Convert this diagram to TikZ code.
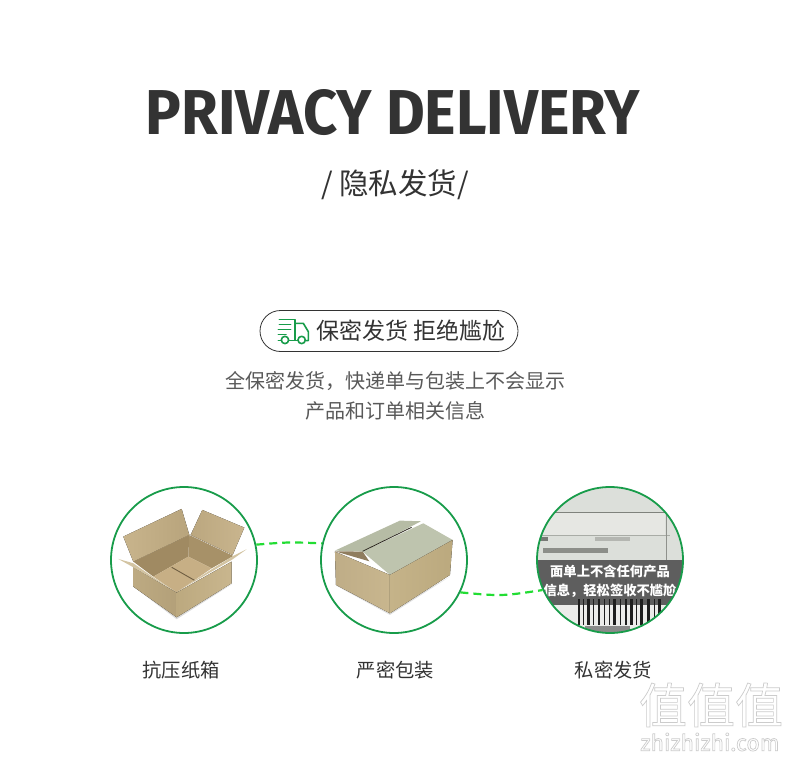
\documentclass[tikz,border=0pt]{standalone}
\usepackage{fontspec}
\setmainfont{Fira Sans}
\newfontfamily\cjk{Noto Sans CJK SC}
\newfontfamily\titlefont{Fira Sans}
\usetikzlibrary{calc}
\definecolor{ringgreen}{HTML}{189C4A}
\definecolor{dashgreen}{HTML}{22DD33}
\definecolor{inkdark}{HTML}{333333}
\definecolor{inkmid}{HTML}{595959}
\newcommand{\hexdef}[1]{\definecolor{#1}{HTML}{#1}}
\hexdef{C8B48C}\hexdef{B8A47C}\hexdef{BBA77F}\hexdef{C9B58E}\hexdef{A08A62}\hexdef{A79168}
\hexdef{C7AF85}\hexdef{BDAA82}\hexdef{B3A079}\hexdef{BCA97F}\hexdef{C9B68E}\hexdef{D3C4A2}
\hexdef{B6BCA5}\hexdef{BEC4AE}\hexdef{BFAD87}\hexdef{C8B68E}\hexdef{C5B389}\hexdef{BBA97E}
\hexdef{8F7D5E}\hexdef{6F5E42}\hexdef{2E2A20}\hexdef{DCDFDA}\hexdef{7F827C}\hexdef{A9ACA6}
\hexdef{8F918C}\hexdef{B4B6B1}\hexdef{777975}\hexdef{8C8E89}\hexdef{5E5E5E}\hexdef{ECECEA}
\hexdef{1E1E1E}\hexdef{8A8A8A}\hexdef{E6E7E3}
\tikzset{
  ring/.style={circle,draw=ringgreen,line width=1.8pt,minimum size=146pt,inner sep=0pt},
  link/.style={draw=dashgreen,line width=2.2pt,dash pattern=on 8pt off 5pt},
  caption text/.style={font=\cjk\fontsize{19.3}{22}\selectfont,text=inkdark,inner sep=0pt},
  para/.style={font=\cjk\fontsize{20}{24}\selectfont,text=inkmid,inner sep=0pt},
  truckline/.style={draw=ringgreen,line width=1.6pt,line cap=round,line join=round},
  lab/.style={font=\cjk\bfseries\fontsize{13.3}{15}\selectfont,text=white,inner sep=0pt}
}
\begin{document}
\begin{tikzpicture}[x=1pt,y=-1pt]
\useasboundingbox (0,0) rectangle (790,760);
\fill[white] (0,0) rectangle (790,760);

% title
\node[inner sep=0pt,text=inkdark] (title) at (393,113) {\resizebox{494pt}{45pt}{\titlefont\bfseries PRIVACY DELIVERY}};
\node[inner sep=0pt,text=inkdark,font=\cjk\fontsize{29.5}{34}\selectfont] (sub) at (395,184.5) {/ 隐私发货/};

% pill
\node[draw=inkdark,line width=0.8pt,rounded corners=20.5pt,minimum width=258pt,minimum height=41pt,inner sep=0pt] (pill) at (389,331) {};
\node[inner sep=0pt,text=inkdark,font=\cjk\fontsize{23}{26}\selectfont] (pilltext) at (411,331) {保密发货\hspace{6pt}拒绝尴尬};

% truck icon
\begin{scope}[x=0.3333pt,y=-0.3333pt,shift={(750,900)}]
  \draw[truckline] (88,58) -- (135,58) -- (135,122) -- (117,122);
  \draw[truckline] (88,73) -- (122,73);
  \draw[truckline] (85,88) -- (122,88);
  \draw[truckline] (85,104) -- (108,104);
  \draw[truckline] (85,122) -- (94,122);
  \draw[truckline] (135,70) -- (160,70) -- (175,95) -- (175,122) -- (167,122);
  \draw[truckline] (135,122) -- (144,122);
  \draw[truckline] (105,120) circle (11);
  \draw[truckline] (155,120) circle (11);
\end{scope}

% paragraph
\node[para] (p1) at (395.5,381) {全保密发货，快递单与包装上不会显示};
\node[para] (p2) at (395.5,411) {产品和订单相关信息};

% open box
\begin{scope}[x=0.3333pt,y=-0.3333pt,shift={(300,1440)}]
  \fill[black!14] (100,320) -- (230,418) -- (397,312) -- (230,405) -- cycle;
  \fill[left color=C8B48C,right color=B8A47C] (70,170) -- (245,87) -- (268,165) -- (100,245) -- cycle;
  \fill[left color=BBA77F,right color=C9B58E] (307,90) -- (433,143) -- (398,225) -- (272,165) -- cycle;
  \fill[color=A08A62] (100,245) -- (268,165) -- (265,230) -- (160,290) -- cycle;
  \fill[color=A79168] (268,165) -- (400,228) -- (335,265) -- (265,230) -- cycle;
  \fill[color=C7AF85] (160,290) -- (265,230) -- (335,265) -- (230,338) -- cycle;
  \draw[color=6F5E42,line width=0.9pt] (215,262) -- (285,302);
  \fill[left color=BDAA82,right color=B3A079] (100,262) -- (230,338) -- (230,412) -- (100,320) -- cycle;
  \fill[left color=BCA97F,right color=C9B68E] (230,338) -- (395,245) -- (395,310) -- (230,412) -- cycle;
  \fill[color=D3C4A2] (55,237) -- (100,250) -- (160,292) -- (230,336) -- (100,262) -- cycle;
  \fill[color=D3C4A2] (230,336) -- (335,268) -- (400,228) -- (440,208) -- (395,240) -- cycle;
\end{scope}

% closed box
\begin{scope}[x=0.3333pt,y=-0.3333pt,shift={(930,1440)}]
  \fill[black!12] (80,318) -- (240,405) -- (420,290) -- (240,392) -- cycle;
  \fill[color=B6BCA5] (75,212) -- (270,122) -- (333,124) -- (158,215) -- cycle;
  \fill[color=BEC4AE] (158,215) -- (340,130) -- (428,180) -- (240,285) -- cycle;
  \draw[color=2E2A20,line width=0.8pt] (158,214) -- (305,142);
  \fill[left color=BFAD87,right color=C8B68E] (75,215) -- (240,285) -- (240,400) -- (78,315) -- cycle;
  \fill[left color=C5B389,right color=BBA97E] (240,285) -- (428,180) -- (420,285) -- (240,400) -- cycle;
  \fill[color=8F7D5E] (75,214) -- (158,215) -- (178,244) -- cycle;
\end{scope}

% label photo
\begin{scope}
  \clip (610,560) circle (73);
  \fill[color=DCDFDA] (530,480) rectangle (690,640);
  \begin{scope}[x=0.3333pt,y=-0.3333pt,shift={(1590,1440)}]
    \fill[color=E6E7E3] (20,100) rectangle (405,165);
    \draw[color=7F827C,line width=0.9pt] (60,97) -- (420,97);
    \draw[color=A9ACA6,line width=0.6pt] (20,165) -- (420,165);
    \draw[color=8F918C,line width=0.9pt] (410,100) -- (410,240);
    \fill[color=B4B6B1] (195,170) rectangle (300,184);
    \fill[color=777975] (20,170) rectangle (55,184);
    \fill[color=8C8E89] (40,204) rectangle (235,218);
    \fill[color=5E5E5E] (0,240) rectangle (480,376);
    \fill[color=ECECEA] (0,376) rectangle (480,480);
    \foreach \bx/\bw in {145/6,159/4,172/8,188/4,203/8,222/4,236/5,250/9,270/4,285/6,300/8,318/4,331/7,350/10,372/4,385/7}
      \fill[color=1E1E1E] (\bx,358) rectangle ++(\bw,77);
    \fill[color=8A8A8A] (165,438) rectangle (300,456);
  \end{scope}
\end{scope}
\node[lab] (l1) at (610,571.5) {面单上不含任何产品};
\node[lab] (l2) at (610,591) {信息，轻松签收不尴尬};

% rings
\node[ring] (c1) at (184,560) {};
\node[ring] (c2) at (394,560) {};
\node[ring] (c3) at (610,560) {};

% links
\draw[link] (c1.12) .. controls ($(c1.12)!0.5!(c2.167)+(0,-2)$) .. (c2.167);
\draw[link] (c2.-26) .. controls ($(c2.-26)!0.5!(c3.204)+(0,5)$) .. (c3.204);

% captions
\node[caption text] (t1) at (181,670.5) {抗压纸箱};
\node[caption text] (t2) at (395.5,670.5) {严密包装};
\node[caption text] (t3) at (613.5,670.5) {私密发货};

% watermark
\node[inner sep=0pt,text=white,font=\cjk\fontsize{48}{50}\selectfont] (wm) at (711,705) {\special{pdf:code 0.8 G 0.7 w 2 Tr}值值值};
\node[inner sep=0pt,text=white,font=\titlefont\fontsize{23}{26}\selectfont] (wmurl) at (710,742) {\special{pdf:code 0.8 G 0.7 w 2 Tr}zhizhizhi.com\special{pdf:code 0 Tr}};
\end{tikzpicture}
\end{document}
